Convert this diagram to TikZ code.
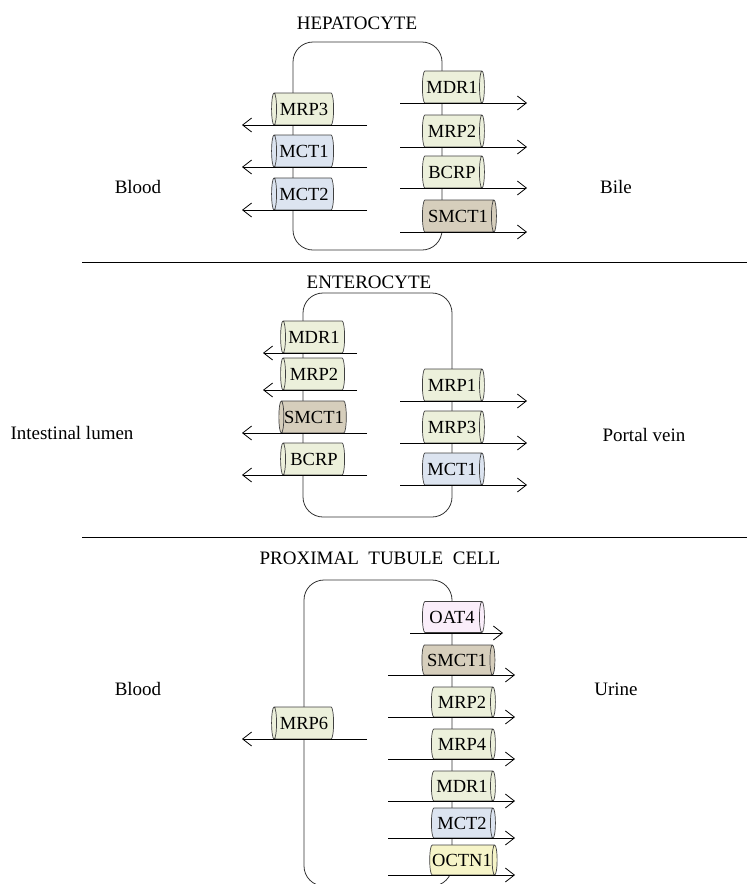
\documentclass[tikz,border=0pt]{standalone}
\usepackage{fontspec}
\setmainfont{Liberation Serif}
\usetikzlibrary{shapes.geometric,arrows.meta}

\definecolor{trgreen}{RGB}{236,240,219}
\definecolor{trblue}{RGB}{220,228,240}
\definecolor{trtan}{RGB}{214,206,188}
\definecolor{trpink}{RGB}{250,238,250}
\definecolor{tryellow}{RGB}{246,244,200}

% cylinder: minimum height runs along the axis, minimum width across it
\tikzset{
    membrane/.style={draw=black!80, line width=0.8pt, rounded corners=20pt},
    pump/.style={cylinder, draw=black!75, line width=0.7pt, aspect=0.4,
        minimum height=62pt, minimum width=32pt, inner sep=0pt,
        font=\fontsize{18.5}{18.5}\selectfont},
    pumpl/.style={pump, shape border rotate=180},
    flow/.style={-{Straight Barb[length=9pt,width=14pt]}, line width=0.8pt},
    lab/.style={font=\fontsize{19}{21}\selectfont},
}

\begin{document}
\begin{tikzpicture}[x=1pt,y=-1pt]
    \useasboundingbox (0,0) rectangle (747,884);
    \clip (0,0) rectangle (747,884);

    % hepatocyte
    \node[lab] (hepa) at (357,23) {HEPATOCYTE};
    \draw[membrane] (293,42) rectangle (442,250);
    \foreach \y/\lab/\col in {109/MRP3/trgreen,151/MCT1/trblue,194/MCT2/trblue}{
        \node[pumpl,fill=\col] (h\lab) at (304,\y) {\lab};
        \draw[flow] ([shift={(63,16)}]h\lab.center) -- ([shift={(-62,16)}]h\lab.center);
    }
    \foreach \y/\lab in {87/MDR1,131/MRP2,172/BCRP}{
        \node[pump,fill=trgreen] (h\lab) at (452,\y) {\lab};
        \draw[flow] ([shift={(-52,16)}]h\lab.center) -- ([shift={(75,16)}]h\lab.center);
    }
    \node[pump,fill=trtan,minimum height=74pt] (hSMCT1) at (458,216) {SMCT1};
    \draw[flow] ([shift={(-58,16)}]hSMCT1.center) -- ([shift={(69,16)}]hSMCT1.center);
    \node[lab] (hblood) at (138,187) {Blood};
    \node[lab] (hbile) at (616,187) {Bile};

    \draw[line width=0.8pt] (82,262) -- (747,262);

    % enterocyte
    \node[lab] (ente) at (369,282) {ENTEROCYTE};
    \draw[membrane] (303,293) rectangle (452,517);
    \foreach \y/\lab/\col in {337/MDR1/trgreen,374/MRP2/trgreen}{
        \node[pumpl,fill=\col,minimum height=64pt] (e\lab) at (314,\y) {\lab};
        \draw[flow] ([shift={(43,16)}]e\lab.center) -- ([shift={(-51,16)}]e\lab.center);
    }
    \foreach \y/\lab/\col in {417/SMCT1/trtan,459/BCRP/trgreen}{
        \node[pumpl,fill=\col,minimum height=64pt] (e\lab) at (314,\y) {\lab};
        \draw[flow] ([shift={(53,16)}]e\lab.center) -- ([shift={(-72,16)}]e\lab.center);
    }
    \foreach \y/\lab/\col in {385/MRP1/trgreen,427/MRP3/trgreen,469/MCT1/trblue}{
        \node[pump,fill=\col] (e\lab) at (452,\y) {\lab};
        \draw[flow] ([shift={(-52,16)}]e\lab.center) -- ([shift={(75,16)}]e\lab.center);
    }
    \node[lab] (elumen) at (72,433) {Intestinal lumen};
    \node[lab] (eportal) at (644,435) {Portal vein};

    \draw[line width=0.8pt] (82,537) -- (747,537);

    % proximal tubule cell
    \node[lab] (prox) at (380,558) {PROXIMAL\ \ TUBULE\ \ CELL};
    \draw[membrane] (304,580) rectangle (452,886);
    \node[pumpl,fill=trgreen] (pMRP6) at (304,723) {MRP6};
    \draw[flow] ([shift={(63,16)}]pMRP6.center) -- ([shift={(-62,16)}]pMRP6.center);
    \node[pump,fill=trpink,minimum width=31pt] (pOAT4) at (452,617) {OAT4};
    \draw[flow] ([shift={(-42,16)}]pOAT4.center) -- ([shift={(51,16)}]pOAT4.center);
    \node[pump,fill=trtan,minimum height=73pt,minimum width=30pt] (pSMCT1) at (457,660) {SMCT1};
    \draw[flow] ([shift={(-69,15)}]pSMCT1.center) -- ([shift={(58,15)}]pSMCT1.center);
    \foreach \y/\lab/\col in {702/MRP2/trgreen,744/MRP4/trgreen,786/MDR1/trgreen,823/MCT2/trblue,860/OCTN1/tryellow}{
        \node[pump,fill=\col,minimum height=64pt,minimum width=30pt] (p\lab) at (462,\y) {\lab};
        \draw[flow] ([shift={(-74,15)}]p\lab.center) -- ([shift={(53,15)}]p\lab.center);
    }
    \node[lab] (pblood) at (138,689) {Blood};
    \node[lab] (purine) at (616,689) {Urine};
\end{tikzpicture}
\end{document}
